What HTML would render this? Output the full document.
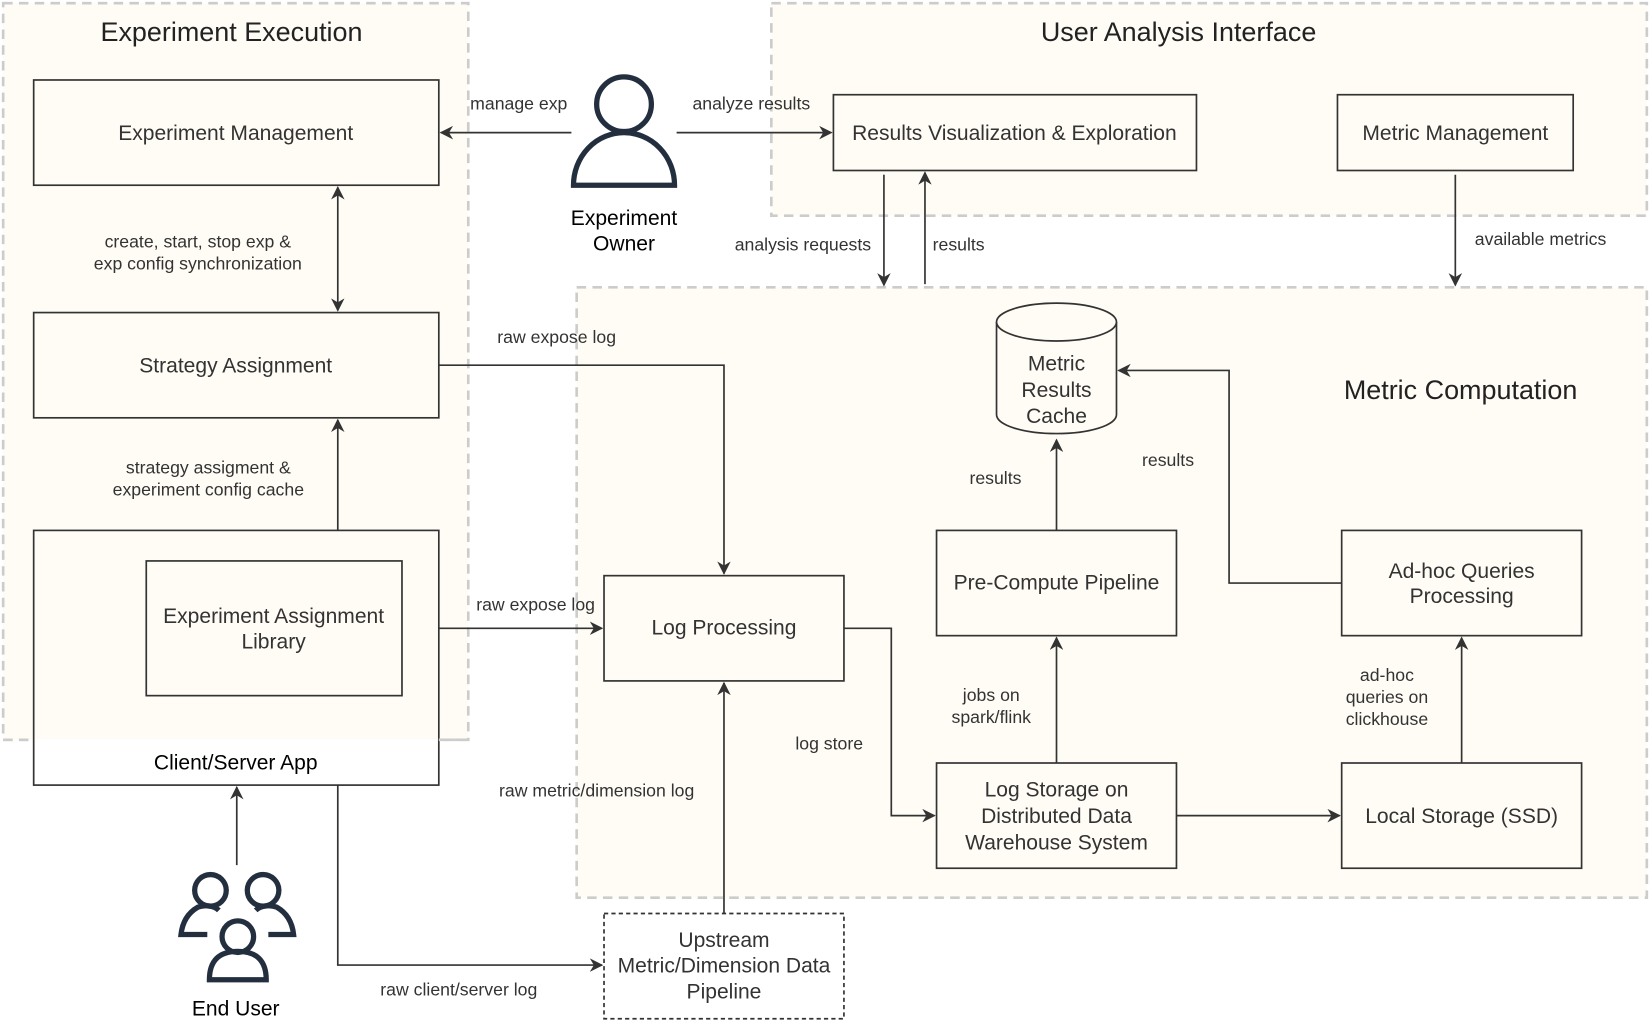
<!DOCTYPE html>
<html><head><meta charset="utf-8"><style>
html,body{margin:0;padding:0;background:#fff;}
svg{display:block;}
text{font-family:"Liberation Sans",Arial,sans-serif;fill:#333;}
.b{font-size:20px;text-anchor:middle;}
.l{font-size:16.8px;text-anchor:middle;}
.t{font-size:25.6px;text-anchor:middle;fill:#222;}
.box{fill:#fffcf5;stroke:#333;stroke-width:1.6;}
.grp{fill:#fffcf5;stroke:#ccc;stroke-width:2.5;stroke-dasharray:9 6;}
.e{fill:none;stroke:#333;stroke-width:1.6;}
.ic{fill:none;stroke:#232f3e;stroke-width:5;}
</style></head><body>
<svg width="1650" height="1024" viewBox="0 0 1568 973" preserveAspectRatio="none" xmlns="http://www.w3.org/2000/svg">
<defs><marker id="a" viewBox="0 0 10 10" refX="9" refY="5" markerWidth="8" markerHeight="8" orient="auto-start-reverse"><path d="M0,0 L10,5 L0,10 L3,5 z" fill="#333"/></marker></defs>
<rect class="grp" x="3" y="3" width="442" height="700"/>
<rect class="grp" x="733" y="3" width="832" height="202"/>
<rect class="grp" x="548" y="273" width="1017" height="580"/>
<text class="t" x="220" y="39">Experiment Execution</text>
<text class="t" x="1120" y="39">User Analysis Interface</text>
<text class="t" x="1388" y="379">Metric Computation</text>
<rect class="box" x="32" y="76" width="385" height="100"/><text class="b" x="224" y="133">Experiment Management</text>
<rect class="box" x="32" y="297" width="385" height="100"/><text class="b" x="224" y="354">Strategy Assignment</text>
<rect class="box" x="32" y="504" width="385" height="242" style="fill:#fff"/>
<rect x="33" y="505" width="383" height="197" fill="#fffcf5"/>
<path d="M3 703 H32 M417 703 H445" stroke="#ccc" stroke-width="2.5" stroke-dasharray="9 6"/>
<text class="b" x="224" y="731" style="fill:#000">Client/Server App</text>
<rect class="box" x="139" y="533" width="243" height="128"/><text class="b" x="260" y="592">Experiment Assignment</text><text class="b" x="260" y="616">Library</text>
<rect class="box" x="792" y="90" width="345" height="72"/><text class="b" x="964" y="133">Results Visualization &amp; Exploration</text>
<rect class="box" x="1271" y="90" width="224" height="72"/><text class="b" x="1383" y="133">Metric Management</text>
<rect class="box" x="574" y="547" width="228" height="100"/><text class="b" x="688" y="603">Log Processing</text>
<rect class="box" x="890" y="504" width="228" height="100"/><text class="b" x="1004" y="560">Pre-Compute Pipeline</text>
<rect class="box" x="1275" y="504" width="228" height="100"/><text class="b" x="1389" y="549">Ad-hoc Queries</text><text class="b" x="1389" y="573">Processing</text>
<rect class="box" x="890" y="725" width="228" height="100"/><text class="b" x="1004" y="757">Log Storage on</text><text class="b" x="1004" y="782">Distributed Data</text><text class="b" x="1004" y="807">Warehouse System</text>
<rect class="box" x="1275" y="725" width="228" height="100"/><text class="b" x="1389" y="782">Local Storage (SSD)</text>
<rect x="574" y="868" width="228" height="100" fill="#fff" stroke="#333" stroke-width="1.6" stroke-dasharray="4 3"/>
<text class="b" x="688" y="900">Upstream</text><text class="b" x="688" y="924">Metric/Dimension Data</text><text class="b" x="688" y="949">Pipeline</text>
<path d="M947 306 V394 A57 18 0 0 0 1061 394 V306" class="box"/>
<ellipse cx="1004" cy="306" rx="57" ry="18" class="box"/>
<text class="b" x="1004" y="352">Metric</text><text class="b" x="1004" y="377">Results</text><text class="b" x="1004" y="402">Cache</text>
<circle class="ic" cx="593" cy="99" r="26"/>
<path class="ic" d="M545 176 A48 50 0 0 1 641 176 Z"/>
<text class="b" x="593" y="214" style="fill:#000">Experiment</text><text class="b" x="593" y="238" style="fill:#000">Owner</text>
<g class="ic" stroke-width="4">
<circle cx="200" cy="846" r="15"/><circle cx="250" cy="846" r="15"/><circle cx="226" cy="890" r="15"/>
<path d="M208 865 A15 10 0 0 0 188 862 Q174 870 172 888 H197"/>
<path d="M243 865 A15 10 0 0 1 263 862 Q277 870 279 888 H255"/>
<path d="M199 931 Q199 904 226 904 Q253 904 253 931 Z"/>
</g>
<text class="b" x="224" y="965" style="fill:#000">End User</text>
<path class="e" d="M543 126 H419" marker-end="url(#a)"/>
<path class="e" d="M643 126 H790" marker-end="url(#a)"/>
<path class="e" d="M321 178 V295" marker-start="url(#a)" marker-end="url(#a)"/>
<path class="e" d="M321 504 V399" marker-end="url(#a)"/>
<path class="e" d="M417 347 H688 V545" marker-end="url(#a)"/>
<path class="e" d="M417 597 H572" marker-end="url(#a)"/>
<path class="e" d="M840 166 V271" marker-end="url(#a)"/>
<path class="e" d="M879 270 V164" marker-end="url(#a)"/>
<path class="e" d="M1383 166 V271" marker-end="url(#a)"/>
<path class="e" d="M802 597 H847 V775 H888" marker-end="url(#a)"/>
<path class="e" d="M1004 725 V606" marker-end="url(#a)"/>
<path class="e" d="M1118 775 H1273" marker-end="url(#a)"/>
<path class="e" d="M1389 725 V606" marker-end="url(#a)"/>
<path class="e" d="M1004 504 V418" marker-end="url(#a)"/>
<path class="e" d="M1275 554 H1168 V352 H1063" marker-end="url(#a)"/>
<path class="e" d="M688 868 V649" marker-end="url(#a)"/>
<path class="e" d="M321 746 V917 H572" marker-end="url(#a)"/>
<path class="e" d="M225 822 V748" marker-end="url(#a)"/>
<text class="l" x="493" y="104">manage exp</text>
<text class="l" x="714" y="104">analyze results</text>
<text class="l" x="188" y="235">create, start, stop exp &amp;</text><text class="l" x="188" y="256">exp config synchronization</text>
<text class="l" x="198" y="450">strategy assigment &amp;</text><text class="l" x="198" y="471">experiment config cache</text>
<text class="l" x="529" y="326">raw expose log</text>
<text class="l" x="509" y="580">raw expose log</text>
<text class="l" x="763" y="238">analysis requests</text>
<text class="l" x="911" y="238">results</text>
<text class="l" x="1464" y="233">available metrics</text>
<text class="l" x="788" y="712">log store</text>
<text class="l" x="942" y="666">jobs on</text><text class="l" x="942" y="687">spark/flink</text>
<text class="l" x="1318" y="647">ad-hoc</text><text class="l" x="1318" y="668">queries on</text><text class="l" x="1318" y="689">clickhouse</text>
<text class="l" x="946" y="460">results</text>
<text class="l" x="1110" y="443">results</text>
<text class="l" x="567" y="757">raw metric/dimension log</text>
<text class="l" x="436" y="946">raw client/server log</text>
</svg>
</body></html>
